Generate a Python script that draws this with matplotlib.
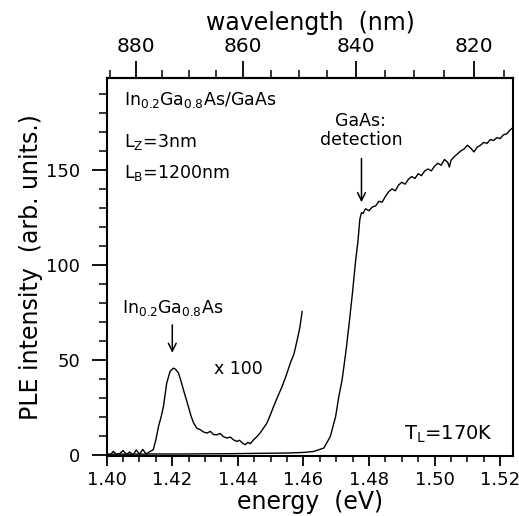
import matplotlib.pyplot as plt
from matplotlib.ticker import MultipleLocator

# PLE spectrum of the GaAs detection (x1)
energy_gaas = [1.400, 1.405, 1.410, 1.415, 1.420, 1.425, 1.430, 1.435, 1.440, 1.445,
               1.450, 1.455, 1.460, 1.4631, 1.4662, 1.4682, 1.4698, 1.4708, 1.4718, 1.4730,
               1.4740, 1.4750, 1.4759, 1.4766, 1.4772, 1.4777, 1.4782, 1.4787,
               1.4790, 1.4800, 1.4810, 1.4820, 1.4830, 1.4840, 1.4850, 1.4860, 1.4870, 1.4880,
               1.4890, 1.4900, 1.4910, 1.4920, 1.4930, 1.4940, 1.4950, 1.4960, 1.4970, 1.4980,
               1.4990, 1.5000, 1.5010, 1.5020, 1.5030, 1.5040, 1.5045, 1.5050, 1.5060, 1.5070,
               1.5080, 1.5090, 1.5100, 1.5110, 1.5120, 1.5130, 1.5140, 1.5150, 1.5160, 1.5170,
               1.5180, 1.5190, 1.5200, 1.5210, 1.5220, 1.5230, 1.5237]
ple_gaas = [0.3, 0.3, 0.3, 0.4, 0.4, 0.4, 0.5, 0.5, 0.6, 0.7,
            0.8, 0.9, 1.2, 1.7, 3.5, 9.6, 20.0, 30.7, 39.5, 55.0,
            70.0, 86.0, 102.0, 112.0, 124.0, 127.5, 127.0, 129.0,
            129.5, 128.5, 130.5, 131.0, 133.5, 133.0, 136.0, 138.5, 140.0, 139.0,
            142.0, 143.5, 142.5, 145.0, 146.5, 145.5, 148.0, 147.0, 149.5, 150.5,
            149.5, 152.0, 153.5, 152.5, 155.5, 154.0, 151.5, 155.0, 157.0, 158.5,
            160.0, 161.0, 163.0, 161.5, 159.5, 162.0, 163.0, 164.5, 164.0, 166.0,
            165.5, 167.0, 166.5, 168.5, 169.0, 171.0, 172.0]

# PLE of the InGaAs well (x100)
energy_well = [1.4000, 1.4010, 1.4020, 1.4030, 1.4040, 1.4050, 1.4060, 1.4070, 1.4080, 1.4090,
               1.4100, 1.4110, 1.4120, 1.4132, 1.4142, 1.4150, 1.4158, 1.4166, 1.4173, 1.4183,
               1.4193, 1.4203, 1.4210, 1.4219, 1.4227, 1.4234, 1.4242, 1.4249, 1.4257, 1.4265,
               1.4275, 1.4285, 1.4295, 1.4306, 1.4316, 1.4326, 1.4336, 1.4346, 1.4356, 1.4367,
               1.4377, 1.4387, 1.4397, 1.4405, 1.4415, 1.4423, 1.4430, 1.4438, 1.4448, 1.4458,
               1.4468, 1.4478, 1.4488, 1.4498, 1.4509, 1.4520, 1.4535, 1.4548, 1.4560, 1.4571,
               1.4581, 1.4589, 1.4596]
ple_well = [0.5, -0.3, 1.8, 0.2, 0.6, 2.2, 0.1, 1.5, -0.2, 2.5,
            0.3, 2.8, 0.4, 1.7, 2.6, 8.0, 14.9, 20.0, 25.4, 37.7,
            43.8, 45.6, 45.0, 43.0, 38.5, 34.2, 29.5, 25.4, 20.5, 16.7,
            14.0, 13.2, 12.0, 11.4, 12.3, 10.6, 10.5, 11.2, 9.5, 8.8,
            9.3, 7.8, 7.0, 7.6, 6.0, 5.3, 6.5, 5.8, 7.9, 9.5,
            11.5, 14.0, 16.5, 20.5, 25.4, 30.0, 36.0, 42.0, 48.3, 53.0,
            60.5, 67.0, 75.4]

energy_ticks = [1.40, 1.42, 1.44, 1.46, 1.48, 1.50, 1.52]
wavelength_ticks = [820, 840, 860, 880]
intensity_ticks = [0, 50, 100, 150]

HC = 1239.84  # eV nm


def ev_to_nm(e):
    return HC / e


def nm_to_ev(w):
    return HC / w


fig = plt.figure(figsize=(5.19, 5.16), dpi=100)
ax = fig.add_axes([0.2056, 0.1169, 0.7834, 0.7319])

ax.plot(energy_gaas, ple_gaas, color='black', lw=1.0)
ax.plot(energy_well, ple_well, color='black', lw=1.0)

ax.set_xlim(1.40, 1.524)
ax.set_ylim(-0.5, 198.4)

for s in ax.spines.values():
    s.set_linewidth(1.5)

ax.set_xticks(energy_ticks)
ax.set_xticklabels(['%.2f' % t for t in energy_ticks])
ax.xaxis.set_minor_locator(MultipleLocator(0.005))
ax.set_yticks(intensity_ticks)
ax.yaxis.set_minor_locator(MultipleLocator(10))
ax.tick_params(axis='x', which='major', direction='out', length=7, width=1.3,
               labelsize=13, pad=4, top=False)
ax.tick_params(axis='x', which='minor', direction='out', length=4, width=1.1, top=False)
ax.tick_params(axis='y', which='major', direction='out', length=11, width=1.3,
               labelsize=13, pad=8, right=False)
ax.tick_params(axis='y', which='minor', direction='out', length=6, width=1.1, right=False)

ax.set_xlabel('energy  (eV)', fontsize=17, labelpad=1)
ax.set_ylabel('PLE intensity  (arb. units.)', fontsize=17, labelpad=2)

# wavelength scale on top
secax = ax.secondary_xaxis('top', functions=(ev_to_nm, nm_to_ev))
secax.set_xticks(wavelength_ticks)
secax.xaxis.set_minor_locator(MultipleLocator(5))
secax.tick_params(axis='x', which='major', direction='out', length=12, width=1.3,
                  labelsize=14.5, pad=4)
secax.tick_params(axis='x', which='minor', direction='out', length=6, width=1.1)
secax.spines['top'].set_linewidth(1.5)
secax.set_xlabel('wavelength  (nm)', fontsize=17, labelpad=5)

# sample description
ax.text(1.4052, 184, r'In$_{0.2}$Ga$_{0.8}$As/GaAs', fontsize=12.5, va='baseline')
ax.text(1.4052, 162, r'L$_\mathrm{Z}$=3nm', fontsize=12.5, va='baseline')
ax.text(1.4052, 146, r'L$_\mathrm{B}$=1200nm', fontsize=12.5, va='baseline')

ax.text(1.4775, 173, 'GaAs:', fontsize=12.5, ha='center', va='baseline')
ax.text(1.4775, 163, 'detection', fontsize=12.5, ha='center', va='baseline')
ax.annotate('', xy=(1.4777, 133), xytext=(1.4777, 156),
            arrowprops=dict(arrowstyle='->', lw=1.1, color='black',
                            mutation_scale=14, shrinkA=0, shrinkB=0))

ax.text(1.4200, 74.5, r'In$_{0.2}$Ga$_{0.8}$As', fontsize=12.5, ha='center', va='baseline')
ax.annotate('', xy=(1.4200, 53.7), xytext=(1.4200, 68.4),
            arrowprops=dict(arrowstyle='->', lw=1.1, color='black',
                            mutation_scale=14, shrinkA=0, shrinkB=0))
ax.text(1.4401, 45, r'x 100', fontsize=12.5, ha='center', va='center')

ax.text(1.5042, 8, r'T$_\mathrm{L}$=170K', fontsize=14, ha='center', va='baseline')

fig.savefig('out.png', dpi=100)
